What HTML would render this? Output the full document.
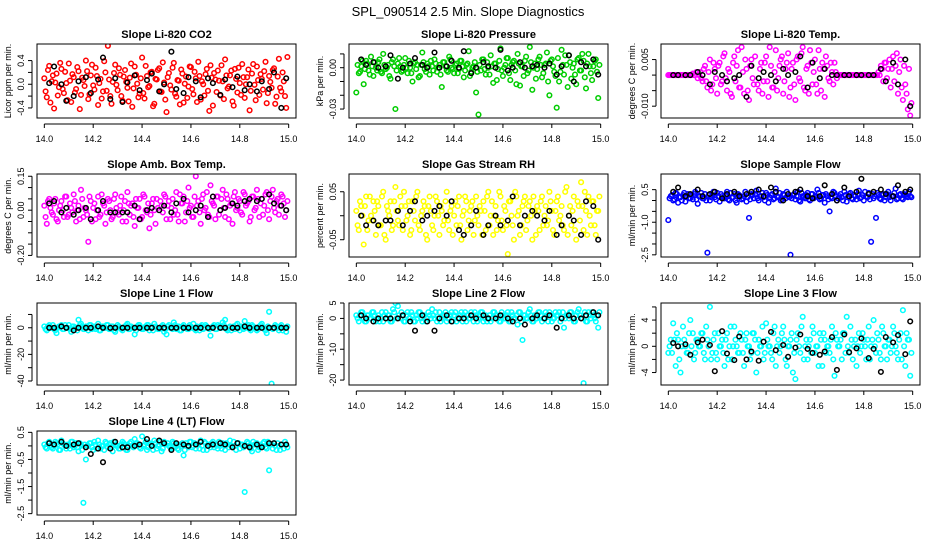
<!DOCTYPE html>
<html><head><meta charset="utf-8"><style>
html,body{margin:0;padding:0;background:#fff}
svg{display:block;font-family:"Liberation Sans",Arial,sans-serif}
</style></head><body>
<svg id="chart" width="936" height="540" viewBox="0 0 936 540" xmlns="http://www.w3.org/2000/svg">
<text x="468" y="16" text-anchor="middle" font-size="13">SPL_090514  2.5 Min. Slope Diagnostics</text>
</svg>
<script>
const times = [14.00,14.01,14.02,14.03,14.04,14.05,14.06,14.07,14.08,14.09,14.10,14.11,14.12,14.13,14.14,14.15,14.16,14.17,14.18,14.19,14.20,14.21,14.22,14.23,14.24,14.25,14.26,14.27,14.28,14.29,14.30,14.31,14.32,14.33,14.34,14.35,14.36,14.37,14.38,14.39,14.40,14.41,14.42,14.43,14.44,14.45,14.46,14.47,14.48,14.49,14.50,14.51,14.52,14.53,14.54,14.55,14.56,14.57,14.58,14.59,14.60,14.61,14.62,14.63,14.64,14.65,14.66,14.67,14.68,14.69,14.70,14.71,14.72,14.73,14.74,14.75,14.76,14.77,14.78,14.79,14.80,14.81,14.82,14.83,14.84,14.85,14.86,14.87,14.88,14.89,14.90,14.91,14.92,14.93,14.94,14.95,14.96,14.97,14.98,14.99];
const times2 = [14.005,14.015,14.025,14.035,14.045,14.055,14.065,14.075,14.085,14.095,14.105,14.115,14.125,14.135,14.145,14.155,14.165,14.175,14.185,14.195,14.205,14.215,14.225,14.235,14.245,14.255,14.265,14.275,14.285,14.295,14.305,14.315,14.325,14.335,14.345,14.355,14.365,14.375,14.385,14.395,14.405,14.415,14.425,14.435,14.445,14.455,14.465,14.475,14.485,14.495,14.505,14.515,14.525,14.535,14.545,14.555,14.565,14.575,14.585,14.595,14.605,14.615,14.625,14.635,14.645,14.655,14.665,14.675,14.685,14.695,14.705,14.715,14.725,14.735,14.745,14.755,14.765,14.775,14.785,14.795,14.805,14.815,14.825,14.835,14.845,14.855,14.865,14.875,14.885,14.895,14.905,14.915,14.925,14.935,14.945,14.955,14.965,14.975,14.985,14.995];
const blackTimes = [14.02,14.04,14.07,14.09,14.12,14.14,14.17,14.19,14.22,14.24,14.27,14.29,14.32,14.34,14.37,14.39,14.42,14.44,14.47,14.49,14.52,14.54,14.57,14.59,14.62,14.64,14.67,14.69,14.72,14.74,14.77,14.79,14.82,14.84,14.87,14.89,14.92,14.94,14.97,14.99];
const xTicks = [14.0,14.2,14.4,14.6,14.8,15.0];
const xTickLabels = ["14.0","14.2","14.4","14.6","14.8","15.0"];

const co2Values = [0.10,-0.22,0.31,0.05,-0.41,0.18,-0.05,0.26,-0.15,0.02,0.35,-0.30,0.12,-0.08,0.22,-0.18,0.07,0.40,-0.25,0.15,-0.02,0.28,-0.35,0.09,-0.12,0.20,0.65,-0.20,0.04,0.33,-0.10,0.16,-0.28,0.24,-0.06,0.11,-0.38,0.30,0.01,-0.16,0.45,-0.24,0.14,-0.03,0.21,-0.33,0.08,0.27,-0.13,0.03,-0.47,0.19,-0.09,0.36,-0.21,0.06,0.25,-0.31,0.13,-0.04,0.29,-0.17,0.10,0.38,-0.26,0.00,0.17,-0.11,0.32,-0.36,0.08,0.23,-0.19,0.05,0.42,-0.07,0.15,-0.29,0.26,-0.14,0.02,0.34,-0.23,0.12,-0.44,0.18,-0.01,0.30,-0.18,0.09,0.22,-0.32,0.14,-0.06,0.27,-0.21,0.43,-0.12,0.05,-0.40];
const co2Values2 = [-0.12,0.24,-0.31,0.15,0.03,-0.19,0.36,-0.08,0.21,-0.27,0.06,0.17,-0.14,0.29,-0.42,0.11,-0.03,0.22,-0.17,0.33,-0.09,0.14,0.02,-0.24,0.39,-0.11,0.08,-0.33,0.19,-0.01,0.27,-0.20,0.13,0.04,-0.29,0.35,-0.07,0.16,-0.22,0.10,-0.15,0.31,-0.05,0.20,-0.37,0.09,0.24,-0.12,0.37,-0.26,0.12,-0.02,0.28,-0.16,0.07,-0.34,0.18,0.01,-0.23,0.30,-0.08,0.21,-0.30,0.14,0.05,-0.19,0.26,-0.45,0.11,0.19,-0.13,0.06,0.32,-0.25,0.15,-0.04,0.23,-0.36,0.09,0.28,-0.18,0.12,0.00,0.25,-0.11,0.34,-0.27,0.07,0.17,-0.09,0.38,-0.15,0.04,0.24,-0.33,0.13,-0.06,0.20,-0.20,0.46];
const co2Black = [0.02,0.30,0.00,-0.28,-0.20,0.05,0.12,-0.15,0.08,0.45,-0.25,0.10,-0.30,0.03,0.15,-0.10,0.07,0.18,-0.12,0.00,0.55,-0.08,-0.15,0.12,0.05,-0.22,0.10,0.02,-0.18,0.08,-0.05,0.13,-0.10,0.00,-0.12,0.05,-0.08,0.20,-0.40,0.10];

const pressureValues = [-0.018,-0.004,0.001,-0.012,0.005,-0.002,0.008,-0.006,0.000,0.004,-0.003,0.010,-0.001,0.002,-0.008,0.006,-0.030,0.003,0.001,-0.002,0.007,-0.004,0.000,-0.010,0.004,0.002,-0.006,0.011,-0.001,0.003,-0.005,0.001,0.006,-0.003,0.002,-0.014,0.004,-0.002,0.008,0.000,-0.004,0.003,-0.001,0.005,-0.007,0.002,0.012,-0.003,0.001,-0.018,-0.034,-0.002,0.006,-0.005,0.000,0.009,-0.011,0.003,-0.001,0.014,-0.006,0.002,0.007,-0.009,0.004,-0.002,0.010,-0.013,0.001,0.005,-0.004,0.015,-0.016,0.003,-0.001,0.008,-0.007,0.002,0.011,-0.020,0.006,-0.003,-0.029,-0.010,0.013,-0.005,0.002,0.009,-0.008,0.003,-0.012,0.007,-0.002,0.005,-0.015,0.010,-0.004,0.001,0.006,-0.022];
const pressureValues2 = [0.002,-0.003,0.005,-0.001,0.003,-0.005,0.001,0.004,-0.002,0.006,-0.004,0.002,0.000,-0.006,0.004,0.001,-0.002,0.007,-0.003,0.002,0.000,0.005,-0.004,0.003,-0.001,-0.007,0.002,0.004,-0.003,0.001,0.005,-0.002,0.003,0.000,-0.005,0.004,0.001,-0.003,0.006,-0.001,0.002,-0.004,0.005,0.001,-0.002,0.003,-0.006,0.000,0.004,-0.003,0.002,0.006,-0.001,0.004,-0.005,0.001,0.003,-0.009,0.005,-0.002,0.000,0.007,-0.004,0.002,0.005,-0.012,0.003,0.001,-0.006,0.008,-0.002,0.004,0.000,-0.008,0.006,0.002,-0.004,0.003,-0.010,0.005,0.001,-0.006,0.007,-0.003,0.002,0.009,-0.014,0.004,0.000,-0.005,0.006,-0.002,0.010,-0.007,0.003,0.001,-0.009,0.005,-0.003,0.002];
const pressureBlack = [0.006,0.002,0.004,0.000,0.001,0.009,-0.008,0.000,0.003,0.007,0.002,0.000,0.011,0.000,0.001,0.005,0.000,0.012,-0.004,0.000,0.004,0.001,0.000,0.013,-0.002,0.000,0.004,0.000,0.001,0.002,0.000,0.003,-0.005,0.001,0.009,-0.010,0.004,0.001,0.006,-0.005];

const tempValues = [0,0,0,0,0,0,0,0,0,0,0.0005,0,-0.001,0.001,-0.002,0.003,-0.004,0.005,-0.003,0.002,-0.006,0.004,-0.002,0.007,-0.005,0.001,-0.007,0.006,0.003,-0.004,0.009,-0.006,0.002,-0.008,0.005,-0.003,0.011,-0.005,0.004,-0.002,0.006,-0.007,0.003,-0.004,0.008,-0.001,0.005,-0.006,0.002,0.007,-0.004,0.004,-0.008,0.006,-0.002,0.009,-0.005,0.003,0.008,-0.003,0.005,-0.006,0.002,0.004,-0.007,0.003,-0.002,0.001,0.004,-0.001,0,0,0,0,0,0,0,0,0,0,0,0,0,0,0,0,0.001,0.003,-0.002,0.004,0.002,-0.004,0.006,0.003,-0.006,0.005,-0.008,-0.003,-0.011,-0.013];
const tempValues2 = [0,0,0,0,0,0,0,0,0,0,0,0.001,0,-0.001,0.002,-0.002,0.001,-0.005,0.004,-0.001,0.003,-0.003,0.006,-0.001,0.002,-0.006,0.004,-0.002,0.008,-0.004,0.001,0.005,-0.005,0.003,-0.001,0.006,-0.003,0.002,-0.006,0.004,-0.002,0.009,-0.004,0.001,-0.005,0.003,0.006,-0.002,0.004,-0.007,0.002,-0.003,0.005,-0.001,0.007,-0.004,0.002,-0.006,0.004,0.001,-0.003,0.008,-0.005,0.002,0.006,-0.001,0.004,-0.003,0.001,0,0,0,0,0,0,0,0,0,0,0,0,0,0,0,0,0,0,0.002,0.004,-0.001,0.005,0.002,-0.002,0.007,0.001,-0.004,0.003,-0.006,0.002,-0.009];
const tempBlack = [0,0,0,0,0.001,0,-0.003,0.001,0,-0.002,-0.001,0,-0.007,0.003,-0.001,0.001,0,-0.002,0.002,0,0.001,0.006,-0.004,0.004,-0.001,0.002,0,0,0,0,0,0,0,0,0.002,-0.002,0.004,-0.003,0.005,-0.010];

const boxTempValues = [0.02,-0.06,0.05,-0.01,0.03,-0.04,0.00,0.04,-0.03,0.06,-0.02,0.01,0.07,-0.05,0.02,0.09,-0.03,0.00,-0.14,0.04,0.01,-0.04,0.06,-0.02,0.03,-0.06,0.05,0.00,-0.03,0.07,-0.01,0.02,-0.05,0.04,0.08,-0.02,0.03,-0.07,0.01,0.05,-0.03,0.06,-0.01,-0.08,0.03,0.00,0.05,-0.22,0.02,0.07,-0.04,0.04,0.01,-0.02,0.08,-0.05,0.03,0.06,-0.01,0.10,0.02,-0.03,0.15,0.04,-0.06,0.07,0.01,-0.02,0.11,0.03,-0.04,0.06,0.00,0.09,-0.03,0.05,0.02,-0.06,0.08,0.01,0.04,-0.02,0.07,0.03,-0.05,0.06,0.00,0.09,-0.03,0.05,0.02,0.08,-0.04,0.06,0.01,0.04,-0.02,0.07,0.03,0.00];
const boxTempValues2 = [-0.03,0.04,0.01,-0.02,0.05,-0.05,0.02,0.00,0.06,-0.03,0.03,-0.01,0.04,0.00,-0.04,0.05,0.01,-0.02,0.06,-0.05,0.03,0.00,-0.03,0.07,0.02,-0.01,0.04,-0.04,0.05,0.01,-0.02,0.06,0.00,-0.05,0.03,0.02,-0.03,0.05,0.01,-0.04,0.07,0.00,0.03,-0.02,0.05,-0.06,0.01,0.04,-0.01,0.06,0.02,-0.04,0.05,0.00,-0.02,0.07,0.03,-0.05,0.04,0.01,-0.03,0.06,0.02,-0.01,0.05,0.00,0.08,-0.03,0.04,0.02,0.06,-0.02,0.05,0.01,0.07,-0.04,0.03,0.06,0.00,0.05,-0.01,0.08,0.02,0.04,-0.03,0.06,0.01,0.05,0.03,-0.02,0.07,0.00,0.04,0.09,-0.01,0.05,0.02,0.06,-0.03,0.04];
const boxTempBlack = [0.03,0.04,-0.01,0.01,-0.02,0.00,0.01,-0.04,0.00,0.04,-0.01,-0.01,-0.01,-0.01,0.02,-0.04,0.00,0.01,0.00,0.02,-0.01,0.03,0.05,-0.01,0.00,0.02,-0.03,0.06,0.00,0.01,0.03,0.02,0.04,0.05,0.04,0.05,0.07,0.03,0.02,0.00];

const rhValues = [0.01,-0.03,0.02,-0.06,0.04,-0.01,0.00,0.03,-0.04,0.02,-0.02,0.05,-0.05,0.01,0.03,-0.02,0.06,-0.01,0.04,-0.03,0.02,0.00,-0.04,0.03,-0.01,0.05,-0.03,0.01,0.02,-0.05,0.04,-0.02,0.00,0.03,-0.04,0.01,-0.01,0.05,-0.03,0.02,0.00,-0.02,0.04,-0.05,0.01,0.03,-0.01,0.02,-0.04,0.04,-0.02,0.01,0.03,-0.03,0.05,0.00,-0.04,0.02,-0.01,0.04,-0.03,0.01,-0.08,0.03,-0.02,0.05,0.00,-0.04,0.02,0.04,-0.01,0.03,-0.05,0.01,0.02,-0.03,0.04,0.00,-0.02,0.05,0.01,-0.04,0.03,-0.01,0.02,-0.03,0.06,0.00,-0.02,0.04,-0.05,0.02,0.07,-0.03,0.01,0.04,-0.02,0.03,-0.04,0.01];
const rhValues2 = [-0.02,0.03,0.00,0.02,-0.03,0.04,-0.01,0.01,0.03,-0.02,0.04,-0.04,0.02,0.00,-0.03,0.03,0.01,-0.02,0.02,0.05,-0.01,0.03,-0.03,0.01,0.04,-0.02,0.00,0.03,-0.04,0.02,0.01,-0.03,0.04,0.00,0.02,-0.02,0.03,-0.01,0.01,-0.04,0.03,0.02,-0.02,0.00,0.04,-0.03,0.01,0.03,-0.01,0.00,0.02,-0.04,0.01,0.04,-0.02,0.03,0.00,-0.03,0.05,-0.01,0.02,-0.02,0.03,0.00,-0.05,0.04,0.01,-0.02,0.03,-0.03,0.02,0.00,0.04,-0.04,0.01,0.03,-0.02,0.02,-0.01,0.03,-0.03,0.01,0.04,0.00,-0.02,0.05,-0.04,0.02,0.01,-0.03,0.03,-0.01,0.02,0.05,-0.04,0.00,0.03,-0.02,0.01,0.04];
const rhBlack = [0.00,-0.02,-0.01,-0.02,-0.01,-0.01,0.01,-0.02,0.01,0.03,-0.01,0.00,0.01,0.02,0.00,0.03,-0.03,-0.04,-0.02,0.01,-0.04,-0.02,0.00,-0.02,-0.01,0.04,-0.02,0.00,0.01,0.00,-0.01,0.01,-0.04,-0.02,0.00,-0.01,-0.04,0.03,0.02,-0.05];

const sampleFlowValues = [-0.90,0.20,0.00,0.35,-0.10,0.15,0.25,-0.05,0.30,0.10,0.05,0.40,-0.15,0.20,0.10,0.30,-2.40,0.00,0.25,0.15,0.35,-0.05,0.20,0.10,0.40,0.00,0.15,0.30,-0.10,0.25,0.05,0.20,-0.05,-0.80,0.30,0.10,0.45,0.00,0.20,0.15,0.35,-0.10,0.25,0.05,0.55,0.15,0.00,0.30,0.10,0.20,-2.50,0.25,0.05,0.40,-0.05,0.20,0.10,0.35,0.00,0.30,0.15,0.50,0.05,0.25,-0.10,0.20,-0.50,0.10,0.35,0.00,0.20,0.15,0.40,-0.05,0.30,0.10,0.25,0.05,0.45,0.15,0.00,0.20,0.35,-1.90,0.10,-0.80,0.25,0.05,0.30,0.15,0.40,0.00,0.20,0.55,0.10,0.30,0.05,0.25,0.15,0.20];
const sampleFlowValues2 = [0.10,0.25,0.05,0.30,0.15,0.00,0.35,0.20,0.10,0.25,0.30,0.05,0.20,0.35,0.10,0.00,0.25,0.15,0.40,0.05,0.20,0.30,0.10,0.25,0.05,0.35,0.15,0.00,0.30,0.20,0.10,0.40,0.15,0.05,0.25,0.30,0.10,0.20,0.35,0.00,0.25,0.15,0.30,0.10,0.20,0.35,0.05,0.25,0.40,0.15,0.10,0.30,0.20,0.00,0.35,0.15,0.25,0.05,0.30,0.10,0.20,0.35,0.10,0.25,0.30,0.05,0.15,0.40,0.20,0.10,0.30,0.00,0.25,0.15,0.35,0.05,0.20,0.30,0.10,0.25,0.40,0.15,0.05,0.30,0.20,0.35,0.10,0.25,0.00,0.30,0.15,0.20,0.35,0.05,0.25,0.10,0.30,0.20,0.40,0.15];
const sampleFlowBlack = [0.40,0.60,0.20,0.30,0.50,0.20,0.30,0.40,0.10,0.30,0.40,0.20,0.30,0.40,0.50,0.20,0.60,0.40,0.00,0.30,0.40,0.50,0.20,0.10,0.20,0.70,0.30,0.00,0.60,0.20,0.40,1.00,0.30,0.40,0.50,0.30,0.20,0.70,0.40,0.50];

const line1Values = [1,-2,2,0,-1,-4,1,2,-1,0,2,-3,1,0,6,3,-1,1,-2,2,0,-1,3,-2,1,0,2,-1,1,-3,2,0,-2,1,3,-1,0,-5,1,2,-1,0,2,-2,1,3,0,-1,1,-3,-5,2,0,4,-1,1,-2,2,0,-1,1,3,-2,0,1,-1,2,0,-6,1,-1,2,0,4,6,-2,1,0,-1,3,-2,0,5,1,-1,2,0,-2,1,3,-1,-4,12,-42,0,1,-2,2,0,-3];
const line1Values2 = [-1,1,0,2,-2,0,1,-1,2,0,-1,1,0,-2,2,1,-1,0,2,-1,1,0,-2,1,0,2,-1,1,-2,0,1,-1,0,2,-1,1,0,-2,2,0,-1,1,2,0,-2,1,-1,0,2,-1,1,0,-1,2,0,-2,1,0,-1,2,0,-1,1,-2,2,0,1,-1,0,2,-1,1,0,2,-1,0,-2,1,2,0,1,-1,0,2,-2,1,0,-1,2,0,-2,1,0,-1,2,0,1,-2,0,1];
const line1Black = [0,0,1,0,-2,0,0,0,1,0,0,0,0,0,0,0,0,0,0,0,0,0,0,0,0,0,0,0,0,0,0,0,1,0,0,0,0,0,0,0];

const line2Values = [1,-1,2,0,-1,1,0,2,-1,1,0,-1,2,1,-1,3,5,4,0,1,-1,2,0,1,-1,0,2,-1,1,0,1,3,0,-1,2,0,1,-1,0,2,1,-1,0,2,1,-1,0,2,-1,1,0,2,-1,1,0,-1,2,1,0,-1,1,0,2,-1,1,0,-2,2,-7,1,0,3,-1,1,0,2,-1,0,1,2,-1,0,1,2,0,-3,1,0,2,-1,1,3,0,-21,-1,2,0,1,-1,-3];
const line2Values2 = [0,1,2,-1,1,0,2,1,0,-1,2,1,0,1,-1,2,0,1,2,-1,1,0,2,-1,1,2,0,1,-1,2,0,1,2,0,-1,1,2,0,1,-1,2,0,1,-1,2,1,0,1,2,-1,1,2,0,-1,1,0,2,1,-1,2,0,1,-1,2,0,1,2,-1,1,0,2,1,-1,0,2,1,0,2,-1,1,0,2,1,-1,2,0,1,2,0,-1,2,1,0,2,-1,1,2,0,1,2];
const line2Black = [1,0,-1,0,0,0,0,1,-1,-4,1,-1,-4,0,1,-1,0,0,1,0,1,0,0,1,0,-1,0,-2,0,1,0,1,-3,0,1,0,0,1,2,1];

const line3Values = [-1,1,3.5,-3,1,-4,3,0,-1,4,2,-1,1,0,2,-2,1,6,-1,2,-2,0,1,-3,2,0,-2,3,0,-1,1,-3,2,0,-1,2,-4,1,0,-2,3.5,0,-1,2,-3,1,0,3,-2,0,1,-4,-5,2,-1,4.5,0,-2,1,3,-1,0,2,-3,1,0,-1,3,-4.5,1,0,-2,2,4.5,-1,1,0,-3,2,0,1,-2,3,0,4,-1,1,-2,2,0,1,-1,3,0,-2,2,5.5,-3,1,-4.5];
const line3Values2 = [0,-1,1,2,-2,0,1,-1,2,0,-2,1,0,2,-1,3,0,-2,1,-1,2,0,-1,1,-2,3,0,1,-1,2,-1,1,0,-2,2,1,-1,0,3,-1,1,0,-2,3,0,-1,2,1,-3,0,2,-1,1,0,3,-2,1,0,-1,2,0,-3,1,2,-1,0,1,-2,2,0,1,2,-1,0,3,-2,1,0,-1,2,0,1,-2,1,0,2,-1,3,0,-2,1,0,2,-1,1,-2,0,2,1,-1];
const line3Black = [0.5,0,0.3,-1.3,0.6,1,0.2,-3.8,2.3,-1.1,-2.1,1.5,-2,-0.8,-2.2,0.7,2.2,-0.6,0.2,-1.6,-0.2,1.8,-0.4,-1,-1.3,-0.8,1.4,-3.6,1.8,-0.9,-0.3,1.2,-1.8,-0.4,-3.9,1.4,0.6,1.7,-1.2,3.8];

const line4Values = [0.05,-0.10,0.15,-0.05,0.00,0.10,-0.15,0.20,0.05,-0.10,0.00,0.15,-0.05,0.10,-0.20,0.05,-2.10,-0.50,0.00,0.10,-0.15,0.05,0.20,-0.10,0.00,0.15,-0.05,0.10,-0.20,0.05,0.00,-0.10,0.15,0.05,-0.15,0.10,0.00,0.25,0.10,-0.05,0.35,0.05,-0.15,0.10,0.00,0.20,-0.10,0.05,-0.20,0.15,-2.70,0.00,-0.10,0.10,0.05,-0.15,0.00,-0.35,0.10,-0.05,0.15,0.00,-0.10,0.05,0.20,-0.15,0.10,0.00,-0.05,0.15,0.05,-0.10,0.00,0.10,-0.15,0.05,0.20,-0.05,0.00,0.10,-0.10,0.05,-1.70,0.15,0.00,-0.20,0.05,0.10,-0.05,0.00,0.15,-0.10,-0.90,0.05,0.10,-0.15,0.00,0.05,-0.10,0.05];
const line4Values2 = [-0.05,0.10,0.00,-0.10,0.15,0.05,-0.15,0.10,0.00,0.05,-0.10,0.15,0.00,-0.05,0.10,-0.15,0.05,0.00,0.10,-0.05,0.15,-0.10,0.05,0.00,-0.15,0.10,0.05,-0.05,0.15,0.00,-0.10,0.05,0.10,-0.15,0.00,0.15,-0.05,0.10,0.05,-0.10,0.00,0.15,-0.05,0.05,-0.15,0.10,0.00,0.15,-0.10,0.05,0.10,-0.05,0.15,0.00,-0.10,0.05,0.10,-0.15,0.00,0.15,-0.05,0.10,0.05,-0.10,0.00,0.15,-0.15,0.05,0.10,-0.05,0.00,0.15,-0.10,0.05,0.10,-0.05,0.00,0.15,-0.15,0.10,0.05,-0.05,0.00,0.10,-0.10,0.15,0.05,-0.15,0.00,0.10,-0.05,0.15,0.05,-0.10,0.00,0.10,-0.15,0.05,0.15,-0.05];
const line4Black = [0.1,0.05,0.15,0.0,0.05,0.1,-0.05,-0.3,-0.1,-0.6,-0.1,0.15,-0.05,-0.05,0.0,0.05,0.25,0.0,0.2,0.1,-0.15,0.1,0.05,0.0,0.05,0.15,0.0,0.05,0.1,0.05,-0.05,0.1,0.0,-0.05,0.05,-0.05,0.1,0.1,0.05,0.05];

const panelTitles = ["Slope Li-820 CO2","Slope Li-820 Pressure","Slope Li-820 Temp.","Slope Amb. Box Temp.","Slope Gas Stream RH","Slope Sample Flow","Slope Line 1 Flow","Slope Line 2 Flow","Slope Line 3 Flow","Slope Line 4 (LT) Flow"];
const yAxisTitles = ["Licor ppm per min.","kPa per min.","degrees C per min.","degrees C per min.","percent per min.","ml/min per min.","ml/min per min.","ml/min per min.","ml/min per min.","ml/min per min."];
const yTickValues = [[-0.4,-0.2,0,0.2,0.4],[-0.03,-0.02,-0.01,0,0.01],[-0.010,-0.005,0,0.005],[-0.20,-0.15,-0.10,-0.05,0,0.05,0.10,0.15],[-0.05,0,0.05],[-2.5,-2.0,-1.5,-1.0,-0.5,0,0.5],[-40,-30,-20,-10,0,10],[-20,-15,-10,-5,0,5],[-4,-2,0,2,4,6],[-2.5,-2,-1.5,-1,-0.5,0,0.5]];
const yTickLabels = [["-0.4","","0.0","","0.4"],["-0.03","","","0.00",""],["-0.010","","","0.005"],["-0.20","","","","0.00","","","0.15"],["-0.05","","0.05"],["-2.5","","","-1.0","","","0.5"],["-40","","-20","","0",""],["-20","","-10","","0","5"],["-4","","0","","4",""],["-2.5","","-1.5","","-0.5","","0.5"]];
const yLimits = [[-0.57,0.68],[-0.0365,0.0172],[-0.0138,0.0100],[-0.207,0.160],[-0.086,0.087],[-2.6,1.22],[-43,18.6],[-21.6,5.0],[-5.9,6.6],[-2.55,0.55]];
const seriesValues = [co2Values,pressureValues,tempValues,boxTempValues,rhValues,sampleFlowValues,line1Values,line2Values,line3Values,line4Values];
const seriesValues2 = [co2Values2,pressureValues2,tempValues2,boxTempValues2,rhValues2,sampleFlowValues2,line1Values2,line2Values2,line3Values2,line4Values2];
const blackValues = [co2Black,pressureBlack,tempBlack,boxTempBlack,rhBlack,sampleFlowBlack,line1Black,line2Black,line3Black,line4Black];
const seriesColors = ["#ff0000","#00cd00","#ff00ff","#ff00ff","#ffff00","#0000ff","#00ffff","#00ffff","#00ffff","#00ffff"];

const NS = "http://www.w3.org/2000/svg";
const svg = document.getElementById("chart");
const colLefts = [37,349,661], panelW = 259;
const rowTops = [44,174,303,431], rowBottoms = [118,257,385,515];
function mk(tag, attrs, parent){const e=document.createElementNS(NS,tag);for(const k in attrs)e.setAttribute(k,attrs[k]);(parent||svg).appendChild(e);return e;}
function slug(s){return s.toLowerCase().replace(/[^a-z0-9]+/g,'-').replace(/^-|-$/g,'');}

panelTitles.forEach((title,i)=>{
  const L = colLefts[i%3], R = L+panelW, T = rowTops[Math.floor(i/3)], B = rowBottoms[Math.floor(i/3)];
  const xMin = 14.0-0.03, xMax = 15.0+0.03;
  const [yMin,yMax] = yLimits[i];
  const xs = v => L + (v-xMin)/(xMax-xMin)*panelW;
  const ys = v => B - (v-yMin)/(yMax-yMin)*(B-T);
  const g = mk("g",{});
  
  
  const clip = mk("clipPath",{id:"clip"+i},g);
  mk("rect",{x:L,y:T,width:panelW,height:B-T},clip);
  const t = mk("text",{x:(L+R)/2,y:T-6,"text-anchor":"middle","font-size":"11","font-weight":"bold"},g);
  t.textContent = title;
  
  
  const yt = mk("text",{x:L-26,y:(T+B)/2,"text-anchor":"middle","font-size":"9",transform:`rotate(-90 ${L-26} ${(T+B)/2})`},g);
  yt.textContent = yAxisTitles[i];
  
  
  const pts = mk("g",{"clip-path":`url(#clip${i})`,fill:"none","stroke-width":"1.5"},g);
  
  
  seriesValues[i].forEach((v,k)=>{
    const c = mk("circle",{cx:xs(times[k]).toFixed(1),cy:ys(v).toFixed(1),r:"2.3",stroke:seriesColors[i]},pts);
    
    
  });
  seriesValues2[i].forEach((v,k)=>{
    const c = mk("circle",{cx:xs(times2[k]).toFixed(1),cy:ys(v).toFixed(1),r:"2.3",stroke:seriesColors[i]},pts);
    
    
  });
  blackValues[i].forEach((v,k)=>{
    const c = mk("circle",{cx:xs(blackTimes[k]).toFixed(1),cy:ys(v).toFixed(1),r:"2.3",stroke:"#000"},pts);
    
    
  });
  const box = mk("rect",{x:L,y:T,width:panelW,height:B-T,fill:"none",stroke:"#000","stroke-width":"1"},g);
  
  
  const xa = mk("g",{},g);
  
  
  mk("line",{x1:xs(14.0),x2:xs(15.0),y1:B+6,y2:B+6,stroke:"#000"},xa);
  xTicks.forEach((v,k)=>{
    mk("line",{x1:xs(v),x2:xs(v),y1:B+6,y2:B+10,stroke:"#000"},xa);
    const tl = mk("text",{x:xs(v),y:B+24,"text-anchor":"middle","font-size":"9"},xa);
    tl.textContent = xTickLabels[k];
    
    
  });
  const ya = mk("g",{},g);
  
  
  const tv = yTickValues[i];
  mk("line",{x1:L-5,x2:L-5,y1:ys(tv[0]),y2:ys(tv[tv.length-1]),stroke:"#000"},ya);
  tv.forEach((v,k)=>{
    const y = ys(v);
    mk("line",{x1:L-5,x2:L-9,y1:y,y2:y,stroke:"#000"},ya);
    if(yTickLabels[i][k]){
      const tl = mk("text",{x:L-13,y:y,"text-anchor":"middle","font-size":"9",transform:`rotate(-90 ${L-13} ${y})`},ya);
      tl.textContent = yTickLabels[i][k];
      
      
    }
  });
});
</script>
</body></html>
